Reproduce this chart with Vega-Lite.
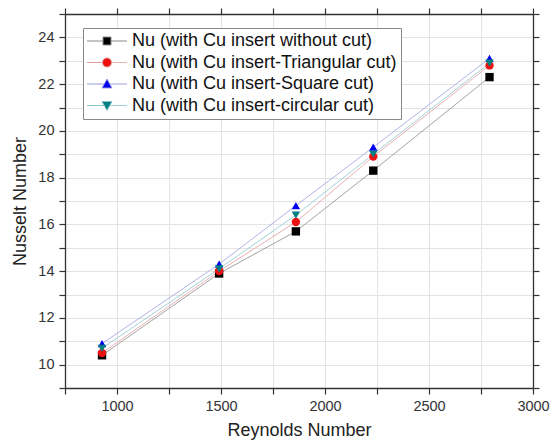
{
  "$schema": "https://vega.github.io/schema/vega-lite/v6.json",
  "width": 468,
  "height": 374,
  "autosize": {"type": "none"},
  "padding": {"left": 65, "top": 14, "right": 19, "bottom": 53},
  "background": "white",
  "config": {"view": {"stroke": null}, "font": "Liberation Sans"},
  "data": {
    "values": [
      {"series": "Nu (with Cu insert without cut)", "Re": 928, "Nu": 10.4},
      {"series": "Nu (with Cu insert without cut)", "Re": 1491, "Nu": 13.9},
      {"series": "Nu (with Cu insert without cut)", "Re": 1860, "Nu": 15.7},
      {"series": "Nu (with Cu insert without cut)", "Re": 2232, "Nu": 18.3},
      {"series": "Nu (with Cu insert without cut)", "Re": 2791, "Nu": 22.3},
      {"series": "Nu (with Cu insert-Triangular cut)", "Re": 928, "Nu": 10.5},
      {"series": "Nu (with Cu insert-Triangular cut)", "Re": 1491, "Nu": 14.0},
      {"series": "Nu (with Cu insert-Triangular cut)", "Re": 1860, "Nu": 16.1},
      {"series": "Nu (with Cu insert-Triangular cut)", "Re": 2232, "Nu": 18.9},
      {"series": "Nu (with Cu insert-Triangular cut)", "Re": 2791, "Nu": 22.8},
      {"series": "Nu (with Cu insert-Square cut)", "Re": 928, "Nu": 10.9},
      {"series": "Nu (with Cu insert-Square cut)", "Re": 1491, "Nu": 14.3},
      {"series": "Nu (with Cu insert-Square cut)", "Re": 1860, "Nu": 16.8},
      {"series": "Nu (with Cu insert-Square cut)", "Re": 2232, "Nu": 19.3},
      {"series": "Nu (with Cu insert-Square cut)", "Re": 2791, "Nu": 23.1},
      {"series": "Nu (with Cu insert-circular cut)", "Re": 928, "Nu": 10.7},
      {"series": "Nu (with Cu insert-circular cut)", "Re": 1491, "Nu": 14.1},
      {"series": "Nu (with Cu insert-circular cut)", "Re": 1860, "Nu": 16.4},
      {"series": "Nu (with Cu insert-circular cut)", "Re": 2232, "Nu": 19.0},
      {"series": "Nu (with Cu insert-circular cut)", "Re": 2791, "Nu": 22.9}
    ]
  },
  "layer": [
    {
      "mark": {"type": "line", "strokeWidth": 0.9},
      "encoding": {
        "x": {
          "field": "Re", "type": "quantitative",
          "scale": {"domain": [750, 3000], "nice": false, "zero": false},
          "axis": {
            "orient": "bottom",
            "values": [750, 1000, 1250, 1500, 1750, 2000, 2250, 2500, 2750, 3000],
            "format": "d",
            "labelExpr": "datum.value % 500 === 0 ? datum.label : ''",
            "labelFlush": false, "labelOverlap": false,
            "title": "Reynolds Number", "titleFontSize": 18, "titleFontWeight": "normal", "titleColor": "#222", "titlePadding": 9,
            "labelFontSize": 14.5, "labelColor": "#333", "labelPadding": 5,
            "tickSize": 6, "tickColor": "#333", "tickWidth": 1.2,
            "domainColor": "#333", "domainWidth": 1.3,
            "grid": true, "gridColor": "#e4e4e4", "gridWidth": 1,
            "encode": {
              "ticks": {"update": {"y2": {"signal": "datum.value % 500 === 0 ? 6 : 3"}}},
              "grid": {"update": {"strokeOpacity": {"signal": "datum.value % 500 === 0 && datum.value < 3000 ? 1 : 0"}}}
            }
          }
        },
        "y": {
          "field": "Nu", "type": "quantitative",
          "scale": {"domain": [9, 25], "nice": false, "zero": false},
          "axis": {
            "orient": "left",
            "values": [9, 10, 11, 12, 13, 14, 15, 16, 17, 18, 19, 20, 21, 22, 23, 24, 25],
            "format": "d",
            "labelExpr": "datum.value % 2 === 0 ? datum.label : ''",
            "labelFlush": false, "labelOverlap": false,
            "title": "Nusselt Number", "titleFontSize": 18, "titleFontWeight": "normal", "titleColor": "#222", "titlePadding": 8,
            "labelFontSize": 14.5, "labelColor": "#333", "labelPadding": 5,
            "tickSize": 6, "tickColor": "#333", "tickWidth": 1.2,
            "domainColor": "#333", "domainWidth": 1.3,
            "grid": true, "gridColor": "#e4e4e4", "gridWidth": 1,
            "encode": {
              "ticks": {"update": {"x2": {"signal": "datum.value % 2 === 0 ? -6 : -3"}}},
              "grid": {"update": {"strokeOpacity": {"signal": "datum.value % 2 === 0 ? 1 : 0"}}}
            }
          }
        },
        "stroke": {
          "field": "series", "type": "nominal",
          "scale": {
            "domain": ["Nu (with Cu insert without cut)", "Nu (with Cu insert-Triangular cut)", "Nu (with Cu insert-Square cut)", "Nu (with Cu insert-circular cut)"],
            "range": ["#8a8a8a", "#e39a9a", "#9a9ee0", "#8ac4cc"]
          },
          "legend": null
        },
        "strokeDash": {
          "field": "series", "type": "nominal",
          "sort": ["Nu (with Cu insert without cut)", "Nu (with Cu insert-Triangular cut)", "Nu (with Cu insert-Square cut)", "Nu (with Cu insert-circular cut)"],
          "scale": {"range": [[1, 0], [1, 0], [1, 0], [1, 0]]},
          "legend": {
            "orient": "none", "legendX": 18, "legendY": 14, "title": null,
            "labelFont": "Liberation Sans", "labelFontSize": 18, "labelColor": "#111", "labelLimit": 400,
            "strokeColor": "#888", "fillColor": "white", "padding": 4, "rowPadding": 3.5,
            "symbolSize": 100, "symbolOffset": 11, "labelOffset": 16,
            "encode": {
              "symbols": {
                "update": {
                  "shape": {"signal": "['M-4,0H-0.8M0.8,0H4M-0.8,-0.8H0.8V0.8H-0.8Z','M-4,0H-0.9M0.9,0H4M-0.9,0A0.9,0.9 0 1,0 0.9,0A0.9,0.9 0 1,0 -0.9,0Z','M-4,0H-0.56M0.56,0H4M0,-1L1,0.8L-1,0.8Z','M-4,0H-0.56M0.56,0H4M0,1L1,-0.8L-1,-0.8Z'][indexof(['Nu (with Cu insert without cut)','Nu (with Cu insert-Triangular cut)','Nu (with Cu insert-Square cut)','Nu (with Cu insert-circular cut)'], datum.value)]"},
                  "fill": {"signal": "['#000000','#ee1111','#0000ee','#008080'][indexof(['Nu (with Cu insert without cut)','Nu (with Cu insert-Triangular cut)','Nu (with Cu insert-Square cut)','Nu (with Cu insert-circular cut)'], datum.value)]"},
                  "stroke": {"signal": "['#8a8a8a','#e39a9a','#9a9ee0','#8ac4cc'][indexof(['Nu (with Cu insert without cut)','Nu (with Cu insert-Triangular cut)','Nu (with Cu insert-Square cut)','Nu (with Cu insert-circular cut)'], datum.value)]"},
                  "strokeWidth": {"value": 1},
                  "opacity": {"value": 1},
                  "fillOpacity": {"value": 1},
                  "strokeOpacity": {"value": 1}
                }
              }
            }
          }
        }
      }
    },
    {
      "mark": {"type": "point", "filled": true, "size": 70, "opacity": 1},
      "encoding": {
        "x": {
          "field": "Re", "type": "quantitative",
          "axis": {
            "orient": "top", "values": [750, 1000, 1250, 1500, 1750, 2000, 2250, 2500, 2750, 3000],
            "labels": false, "title": null, "grid": false,
            "tickSize": 6, "tickColor": "#333", "tickWidth": 1.2,
            "domainColor": "#333", "domainWidth": 1.3,
            "encode": {"ticks": {"update": {"y2": {"signal": "datum.value % 500 === 0 ? 6 : 3"}}}}
          }
        },
        "y": {
          "field": "Nu", "type": "quantitative",
          "axis": {
            "orient": "right", "values": [9, 10, 11, 12, 13, 14, 15, 16, 17, 18, 19, 20, 21, 22, 23, 24, 25],
            "labels": false, "title": null, "grid": false,
            "tickSize": 6, "tickColor": "#333", "tickWidth": 1.2,
            "domainColor": "#333", "domainWidth": 1.3,
            "encode": {"ticks": {"update": {"x2": {"signal": "datum.value % 2 === 0 ? -6 : -3"}}}}
          }
        },
        "fill": {
          "field": "series", "type": "nominal",
          "scale": {
            "domain": ["Nu (with Cu insert without cut)", "Nu (with Cu insert-Triangular cut)", "Nu (with Cu insert-Square cut)", "Nu (with Cu insert-circular cut)"],
            "range": ["#000000", "#ee1111", "#0000ee", "#008080"]
          },
          "legend": null
        },
        "shape": {
          "field": "series", "type": "nominal",
          "scale": {
            "domain": ["Nu (with Cu insert without cut)", "Nu (with Cu insert-Triangular cut)", "Nu (with Cu insert-Square cut)", "Nu (with Cu insert-circular cut)"],
            "range": ["square", "circle", "triangle-up", "triangle-down"]
          },
          "legend": null
        }
      }
    }
  ],
  "resolve": {"axis": {"x": "independent", "y": "independent"}}
}
